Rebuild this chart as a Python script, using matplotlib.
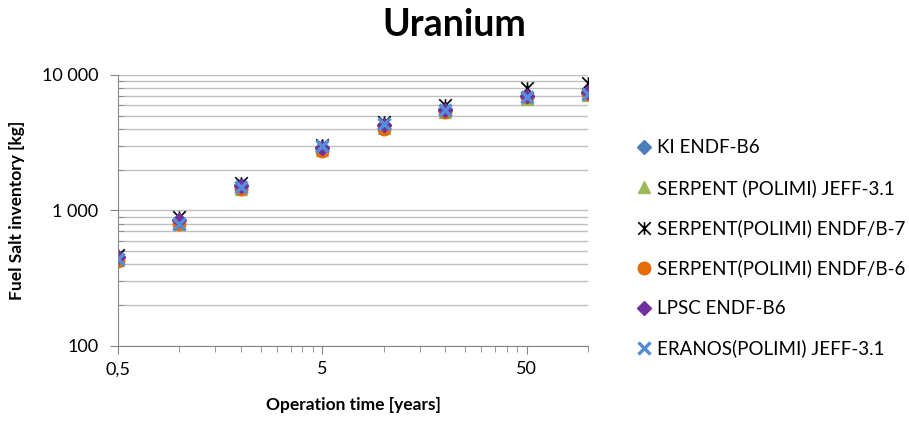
import numpy as np
import matplotlib.pyplot as plt
from matplotlib.path import Path
from matplotlib.ticker import FixedLocator, NullFormatter

plt.rcParams['font.family'] = ['Lato', 'DejaVu Sans']

# operation time [years]
years = [0.5, 1, 2, 5, 10, 20, 50, 100]

# fuel salt uranium inventory [kg]
ki_b6 = [450, 850, 1550, 2950, 4300, 5600, 7000, 7400]
serpent_jeff = [430, 800, 1450, 2800, 4050, 5300, 6700, 7100]
serpent_b7 = [470, 900, 1600, 3050, 4500, 6000, 8000, 8700]
serpent_b6 = [425, 790, 1430, 2750, 4000, 5350, 6900, 7300]
lpsc_b6 = [450, 850, 1520, 2900, 4250, 5550, 7050, 7500]
eranos_jeff = [440, 800, 1500, 3000, 4350, 5500, 6900, 7200]

names = ["KI ENDF-B6", "SERPENT (POLIMI) JEFF-3.1", "SERPENT(POLIMI) ENDF/B-7",
         "SERPENT(POLIMI) ENDF/B-6", "LPSC ENDF-B6", "ERANOS(POLIMI) JEFF-3.1"]

# excel-like star: an X with a vertical bar
star = Path([(-1, -1), (1, 1), (-1, 1), (1, -1), (0, 1), (0, -1)],
            [Path.MOVETO, Path.LINETO, Path.MOVETO, Path.LINETO, Path.MOVETO, Path.LINETO])

fig = plt.figure(figsize=(9.09, 4.21), dpi=100)
ax = fig.add_axes([118/909, 1-346/421, 470/909, 271/421])

ax.plot(years, ki_b6, ls='none', marker='D', ms=7, color='#4A7EBB', label=names[0])
ax.plot(years, serpent_jeff, ls='none', marker='^', ms=9, color='#9BBB59', label=names[1])
ax.plot(years, serpent_b7, ls='none', marker=star, ms=9, mfc='none', mec='black', mew=1.2, label=names[2])
ax.plot(years, serpent_b6, ls='none', marker='o', ms=9, color='#E46C0A', label=names[3])
ax.plot(years, lpsc_b6, ls='none', marker='D', ms=7, color='#7030A0', label=names[4])
ax.plot(years, eranos_jeff, ls='none', marker='x', ms=9, mew=2.5, color='#558ED5', label=names[5])

ax.set_xscale('log')
ax.set_yscale('log')
ax.set_xlim(0.5, 100)
ax.set_ylim(100, 10000)

ax.xaxis.set_major_locator(FixedLocator([0.5, 5, 50]))
ax.xaxis.set_minor_locator(FixedLocator(list(np.arange(1, 5, 0.5)) + list(np.arange(10, 50, 5)) + [100]))
ax.set_xticklabels(["0,5", "5", "50"])
ax.xaxis.set_minor_formatter(NullFormatter())

ax.yaxis.set_major_locator(FixedLocator([100, 1000, 10000]))
ax.set_yticklabels(["100", "1 000", "10 000"])
ax.yaxis.set_minor_locator(FixedLocator([k*10**d for d in (2, 3) for k in range(2, 10)]))
ax.yaxis.set_minor_formatter(NullFormatter())

ax.grid(True, which='both', axis='y', color='#BFBFBF', lw=1)
ax.set_axisbelow(True)
for s in ('top', 'right'):
    ax.spines[s].set_visible(False)
for s in ('left', 'bottom'):
    ax.spines[s].set_color('#868686')

ax.tick_params(which='major', length=6, color='#868686', labelsize=13)
ax.tick_params(axis='y', which='major', pad=8)
ax.tick_params(axis='x', which='major', pad=5)
ax.tick_params(axis='x', which='minor', length=4, color='#868686')
ax.tick_params(axis='y', which='minor', length=4, direction='in', color='#868686')

ax.set_xlabel("Operation time [years]", fontsize=12.5, fontweight='bold', labelpad=14)
ax.set_ylabel("Fuel Salt inventory [kg]", fontsize=12.5, fontweight='bold', labelpad=12)
fig.text(0.5, 0.94, "Uranium", ha='center', va='center', fontsize=27, fontweight='bold')

ax.legend(loc='center left', bbox_to_anchor=(1.06, 0.36), frameon=False, fontsize=13.5,
          handletextpad=0.1, labelspacing=1.2, handlelength=1.2, markerscale=1.0)

fig.savefig('out.png', dpi=100)
